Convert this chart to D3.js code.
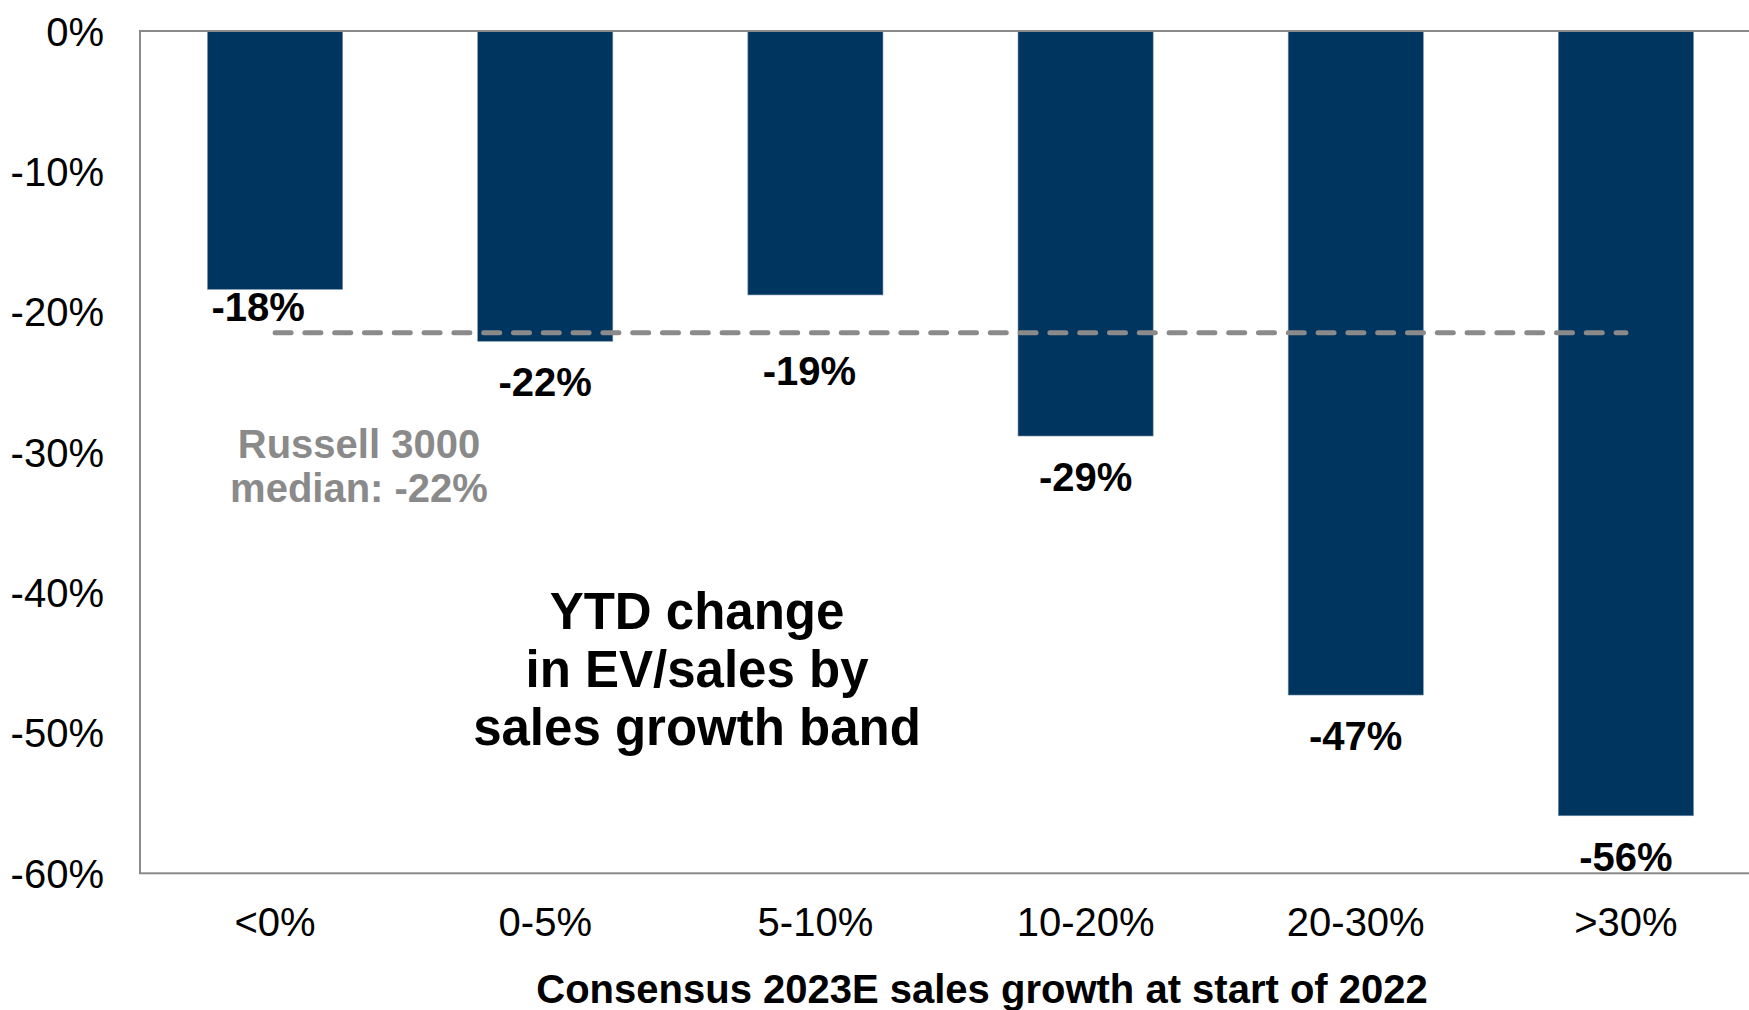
<!DOCTYPE html>
<html>
<head>
<meta charset="utf-8">
<script src="https://cdn.jsdelivr.net/npm/d3@7"></script>
<style>
  html, body { margin: 0; padding: 0; background: #fff; }
  svg { display: block; font-family: "Liberation Sans", Arial, Helvetica, sans-serif; }
</style>
</head>
<body>
<svg id="chart" width="1749" height="1010"></svg>
<script>
// Sales growth bands (consensus 2023E sales growth at start of 2022)
const categories = ["<0%", "0-5%", "5-10%", "10-20%", "20-30%", ">30%"];
// YTD change in EV/sales, percent
const values = [-18.4, -22.1, -18.8, -28.85, -47.3, -55.9];
// Russell 3000 median YTD change, percent
const medianValue = -21.5;
const yTicks = [0, -10, -20, -30, -40, -50, -60];
const titleLines = ["YTD change", "in EV/sales by", "sales growth band"];
const medianLines = ["Russell 3000", "median: "];
const xAxisTitle = "Consensus 2023E sales growth at start of 2022";

const svg = d3.select("#chart");
const plotLeft = 140, plotRight = 1761, plotTop = 31, plotBottom = 873.3;

const x = d3.scaleBand()
  .domain(categories)
  .range([plotLeft, plotRight])
  .paddingInner(0.5)
  .paddingOuter(0.25);

const y = d3.scaleLinear().domain([-60, 0]).range([plotBottom, plotTop]);

// Whole-percent labels with a plain hyphen as the minus sign
const locale = d3.formatLocale({ decimal: ".", thousands: ",", grouping: [3], currency: ["", ""], minus: "-" });
const pct = locale.format(".0f");

// Bars hang down from the zero line
svg.append("g").selectAll("rect")
  .data(values)
  .join("rect")
  .attr("x", (d, i) => x(categories[i]))
  .attr("y", y(0))
  .attr("width", x.bandwidth())
  .attr("height", d => y(d) - y(0))
  .attr("fill", "#00355F")
  .attr("stroke", "#6f8ba6")
  .attr("stroke-width", 0.6);

// Plot frame (zero line on top, -60% line at the bottom)
svg.append("rect")
  .attr("x", plotLeft).attr("y", plotTop)
  .attr("width", plotRight - plotLeft).attr("height", plotBottom - plotTop)
  .attr("fill", "none")
  .attr("stroke", "#8a8a8a")
  .attr("stroke-width", 2);

// Median reference line, spanning the first to last band centres
const cx = c => x(c) + x.bandwidth() / 2;
svg.append("line")
  .attr("x1", cx(categories[0]))
  .attr("x2", cx(categories[categories.length - 1]))
  .attr("y1", y(medianValue))
  .attr("y2", y(medianValue))
  .attr("stroke", "#8a8a8a")
  .attr("stroke-width", 5)
  .attr("stroke-linecap", "round")
  .attr("stroke-dasharray", "16,13.8");

// Value labels under each bar; two are moved to keep clear of the median line
const labelShift = { "<0%": [-17, -23], "5-10%": [-6, 35] };
const shift = (i, k) => (labelShift[categories[i]] || [0, 0])[k];
svg.append("g").selectAll("text")
  .data(values)
  .join("text")
  .attr("x", (d, i) => cx(categories[i]) + shift(i, 0))
  .attr("y", (d, i) => y(d) + 55 + shift(i, 1))
  .attr("text-anchor", "middle")
  .attr("font-size", 40)
  .attr("font-weight", "bold")
  .attr("fill", "#000")
  .text(d => pct(d) + "%");

// Y axis tick labels
const yAxis = svg.append("g")
  .attr("transform", `translate(${plotLeft},0)`)
  .call(d3.axisLeft(y).tickValues(yTicks).tickSize(0).tickPadding(36)
    .tickFormat(d => pct(d) + "%"));
yAxis.select(".domain").remove();
yAxis.selectAll("text")
  .attr("font-size", 40)
  .attr("font-family", "Liberation Sans, Arial, sans-serif")
  .attr("fill", "#000")
  .attr("dy", "0.35em");

// X axis category labels
const xAxis = svg.append("g")
  .attr("transform", `translate(0,${plotBottom})`)
  .call(d3.axisBottom(x).tickSize(0).tickPadding(34));
xAxis.select(".domain").remove();
xAxis.selectAll("text")
  .attr("font-size", 40)
  .attr("font-family", "Liberation Sans, Arial, sans-serif")
  .attr("fill", "#000");

// X axis title
svg.append("text")
  .attr("x", 982).attr("y", 1003)
  .attr("text-anchor", "middle")
  .attr("font-size", 40)
  .attr("font-weight", "bold")
  .attr("fill", "#000")
  .text(xAxisTitle);

// Median annotation
const medLabel = [medianLines[0], medianLines[1] + pct(medianValue) + "%"];
svg.append("g").selectAll("text")
  .data(medLabel)
  .join("text")
  .attr("x", 359)
  .attr("y", (d, i) => 458 + i * 43.5)
  .attr("text-anchor", "middle")
  .attr("font-size", 40)
  .attr("font-weight", "bold")
  .attr("fill", "#8a8a8a")
  .text(d => d);

// Chart title inside the plot
svg.append("g").selectAll("text")
  .data(titleLines)
  .join("text")
  .attr("x", 697)
  .attr("y", (d, i) => 629 + i * 58)
  .attr("text-anchor", "middle")
  .attr("font-size", 51)
  .attr("font-weight", "bold")
  .attr("fill", "#000")
  .text(d => d);
</script>
</body>
</html>
